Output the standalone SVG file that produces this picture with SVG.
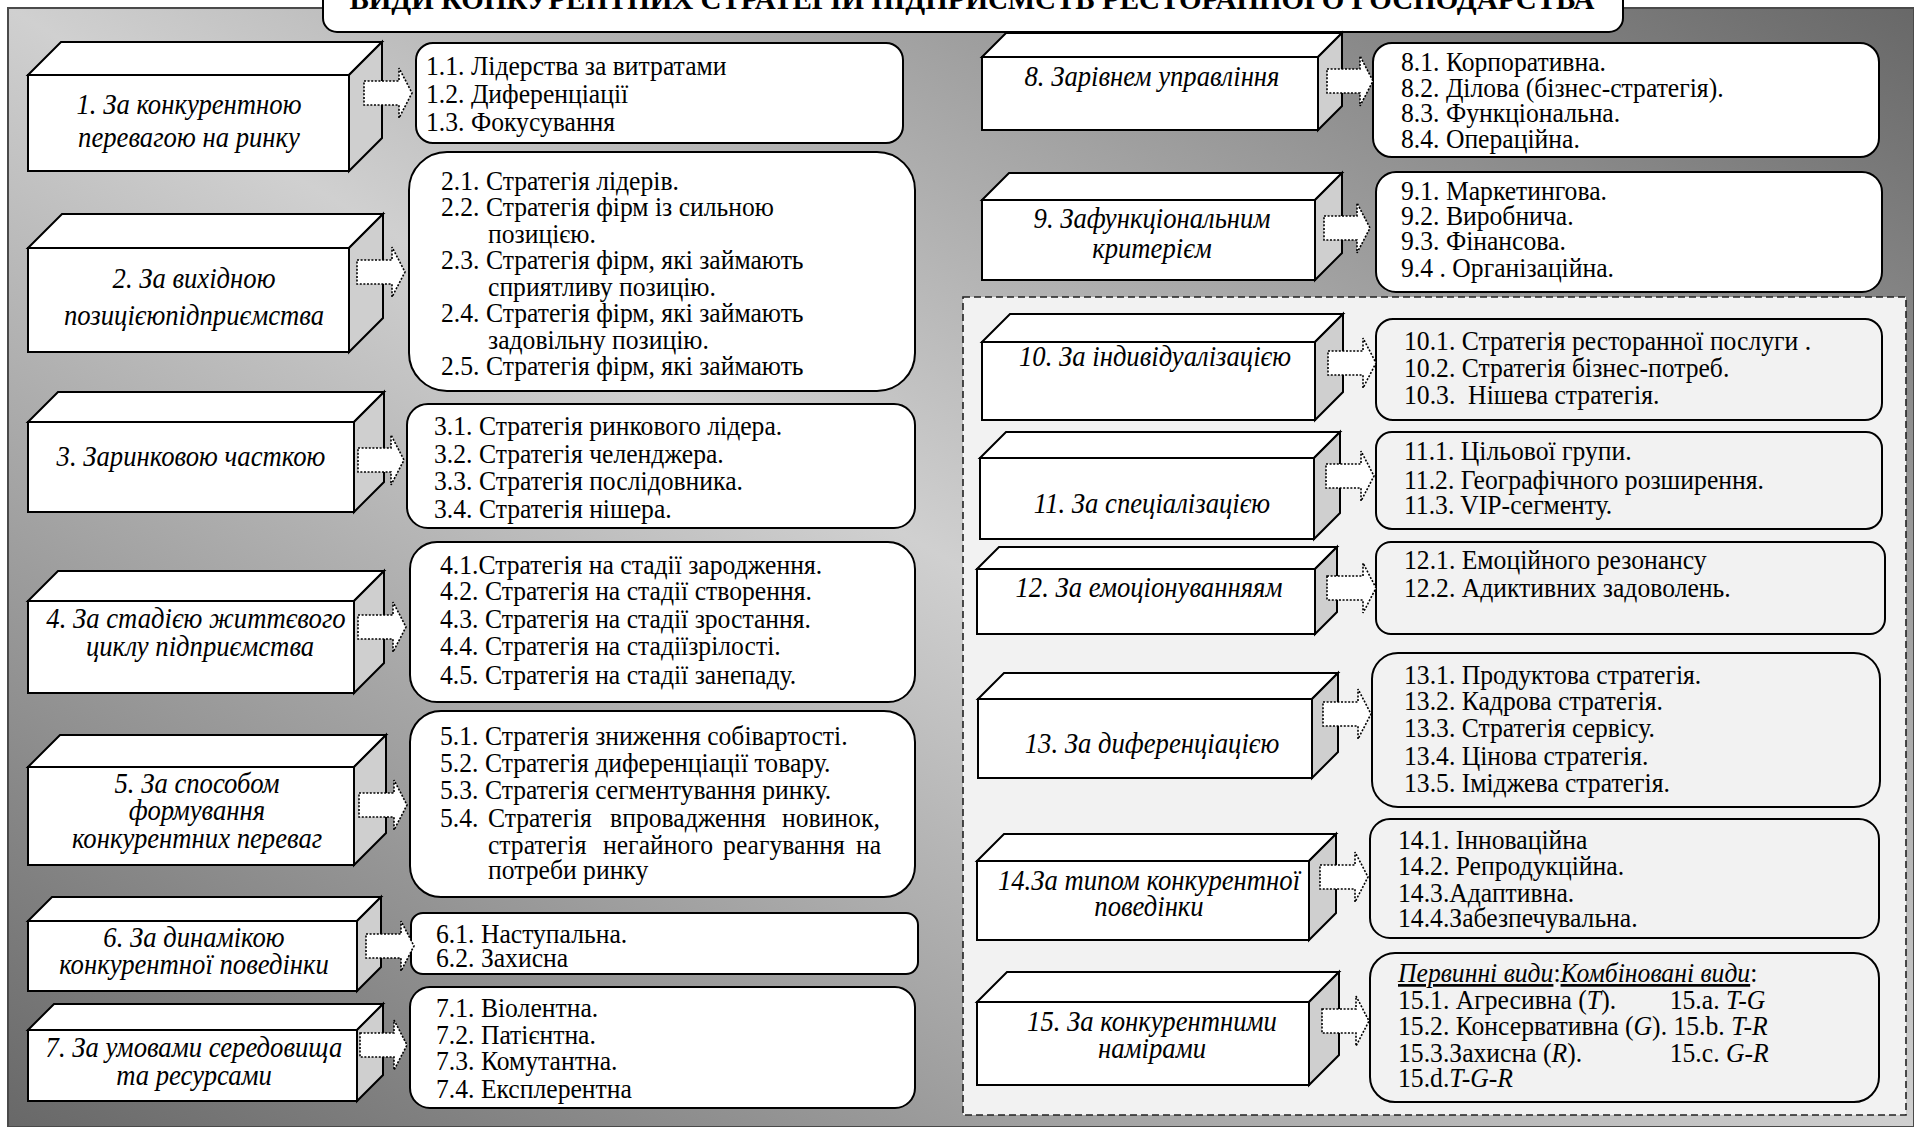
<svg xmlns="http://www.w3.org/2000/svg" width="1914" height="1127" viewBox="0 0 1914 1127">
  <defs>
    <linearGradient id="bgGrad" x1="0" y1="1" x2="1" y2="0">
      <stop offset="0" stop-color="#686868"/>
      <stop offset="0.5" stop-color="#d0d0d0"/>
      <stop offset="1" stop-color="#686868"/>
    </linearGradient>
    <style>
      .cf{fill:#fff;stroke:#000;stroke-width:2;stroke-linejoin:miter}
      .cs{fill:#cfcfcf;stroke:#000;stroke-width:2}
      .box{fill:#fff;stroke:#000;stroke-width:2}
      .box.g{fill:#f2f2f2}
      .arr{fill:#fff;stroke:#000;stroke-width:1.6;stroke-dasharray:2 1.6}
      .nt{font-family:"Liberation Serif","Times New Roman",serif;font-style:italic;font-size:29px;text-anchor:middle;fill:#000}
      .lt{font-family:"Liberation Serif","Times New Roman",serif;font-size:27px;fill:#000}
      .it{font-style:italic}
      .ul{font-style:italic;text-decoration:underline}
      .title{font-family:"Liberation Serif","Times New Roman",serif;font-weight:bold;font-size:29px;text-anchor:middle}
    </style>
  </defs>

  <!-- backdrop -->
  <rect x="8" y="8" width="1906" height="1119" fill="url(#bgGrad)" stroke="#4a4a4a" stroke-width="2"/>

  <!-- heading -->
  <g id="title">
    <rect x="323" y="-20" width="1300" height="52" rx="14" fill="#fff" stroke="#000" stroke-width="2"/>
    <text class="title" x="972" y="9">ВИДИ КОНКУРЕНТНИХ СТРАТЕГІЙ ПІДПРИЄМСТВ РЕСТОРАННОГО ГОСПОДАРСТВА</text>
  </g>

  <!-- panel holding groups 10-15 -->
  <rect id="panel" x="963" y="297" width="943" height="818" fill="#f2f2f2" stroke="#222" stroke-width="1.6" stroke-dasharray="7 4"/>

  <!-- criteria cubes (labels are set in a narrowed serif) -->
  <g id="n1">
    <path class="cf" d="M28 75 L61 42 H382 L349 75 Z"/><path class="cs" d="M349 75 L382 42 V138 L349 171 Z"/><rect class="cf" x="28" y="75" width="321" height="96"/>
    <text class="nt" transform="translate(189 0) scale(0.92 1)" y="114">1. За конкурентною</text>
    <text class="nt" transform="translate(189 0) scale(0.92 1)" y="147">перевагою на ринку</text>
  </g>
  <g id="n2">
    <path class="cf" d="M28 248 L62 214 H383 L349 248 Z"/><path class="cs" d="M349 248 L383 214 V318 L349 352 Z"/><rect class="cf" x="28" y="248" width="321" height="104"/>
    <text class="nt" transform="translate(194 0) scale(0.92 1)" y="288">2. За вихідною</text>
    <text class="nt" transform="translate(194 0) scale(0.92 1)" y="325">позицієюпідприємства</text>
  </g>
  <g id="n3">
    <path class="cf" d="M28 422 L58 392 H384 L354 422 Z"/><path class="cs" d="M354 422 L384 392 V482 L354 512 Z"/><rect class="cf" x="28" y="422" width="326" height="90"/>
    <text class="nt" transform="translate(191 0) scale(0.92 1)" y="466">3. Заринковою часткою</text>
  </g>
  <g id="n4">
    <path class="cf" d="M28 601 L58 571 H384 L354 601 Z"/><path class="cs" d="M354 601 L384 571 V663 L354 693 Z"/><rect class="cf" x="28" y="601" width="326" height="92"/>
    <text class="nt" transform="translate(196 0) scale(0.92 1)" y="628">4. За стадією життєвого</text>
    <text class="nt" transform="translate(200 0) scale(0.92 1)" y="656">циклу підприємства</text>
  </g>
  <g id="n5">
    <path class="cf" d="M28 767 L60 735 H386 L354 767 Z"/><path class="cs" d="M354 767 L386 735 V833 L354 865 Z"/><rect class="cf" x="28" y="767" width="326" height="98"/>
    <text class="nt" transform="translate(197 0) scale(0.92 1)" y="793">5. За способом</text>
    <text class="nt" transform="translate(197 0) scale(0.92 1)" y="820">формування</text>
    <text class="nt" transform="translate(197 0) scale(0.92 1)" y="848">конкурентних переваг</text>
  </g>
  <g id="n6">
    <path class="cf" d="M28 921 L52 897 H381 L357 921 Z"/><path class="cs" d="M357 921 L381 897 V967 L357 991 Z"/><rect class="cf" x="28" y="921" width="329" height="70"/>
    <text class="nt" transform="translate(194 0) scale(0.92 1)" y="947">6. За динамікою</text>
    <text class="nt" transform="translate(194 0) scale(0.92 1)" y="974">конкурентної поведінки</text>
  </g>
  <g id="n7">
    <path class="cf" d="M28 1030 L54 1004 H383 L357 1030 Z"/><path class="cs" d="M357 1030 L383 1004 V1075 L357 1101 Z"/><rect class="cf" x="28" y="1030" width="329" height="71"/>
    <text class="nt" transform="translate(194 0) scale(0.92 1)" y="1057">7. За умовами середовища</text>
    <text class="nt" transform="translate(194 0) scale(0.92 1)" y="1085">та ресурсами</text>
  </g>
  <g id="n8">
    <path class="cf" d="M982 57 L1006 33 H1342 L1318 57 Z"/><path class="cs" d="M1318 57 L1342 33 V106 L1318 130 Z"/><rect class="cf" x="982" y="57" width="336" height="73"/>
    <text class="nt" transform="translate(1152 0) scale(0.92 1)" y="86">8. Зарівнем управління</text>
  </g>
  <g id="n9">
    <path class="cf" d="M982 200 L1009 173 H1342 L1315 200 Z"/><path class="cs" d="M1315 200 L1342 173 V253 L1315 280 Z"/><rect class="cf" x="982" y="200" width="333" height="80"/>
    <text class="nt" transform="translate(1152 0) scale(0.92 1)" y="228">9. Зафункціональним</text>
    <text class="nt" transform="translate(1152 0) scale(0.92 1)" y="258">критерієм</text>
  </g>
  <g id="n10">
    <path class="cf" d="M982 342 L1010 314 H1343 L1315 342 Z"/><path class="cs" d="M1315 342 L1343 314 V392 L1315 420 Z"/><rect class="cf" x="982" y="342" width="333" height="78"/>
    <text class="nt" transform="translate(1155 0) scale(0.92 1)" y="366">10. За індивідуалізацією</text>
  </g>
  <g id="n11">
    <path class="cf" d="M980 458 L1006 432 H1340 L1314 458 Z"/><path class="cs" d="M1314 458 L1340 432 V513 L1314 539 Z"/><rect class="cf" x="980" y="458" width="334" height="81"/>
    <text class="nt" transform="translate(1152 0) scale(0.92 1)" y="513">11. За спеціалізацією</text>
  </g>
  <g id="n12">
    <path class="cf" d="M977 569 L999 547 H1337 L1315 569 Z"/><path class="cs" d="M1315 569 L1337 547 V612 L1315 634 Z"/><rect class="cf" x="977" y="569" width="338" height="65"/>
    <text class="nt" transform="translate(1149 0) scale(0.92 1)" y="597">12. За емоціонуванняям</text>
  </g>
  <g id="n13">
    <path class="cf" d="M978 699 L1004 673 H1338 L1312 699 Z"/><path class="cs" d="M1312 699 L1338 673 V752 L1312 778 Z"/><rect class="cf" x="978" y="699" width="334" height="79"/>
    <text class="nt" transform="translate(1152 0) scale(0.92 1)" y="753">13. За диференціацією</text>
  </g>
  <g id="n14">
    <path class="cf" d="M977 861 L1004 834 H1336 L1309 861 Z"/><path class="cs" d="M1309 861 L1336 834 V913 L1309 940 Z"/><rect class="cf" x="977" y="861" width="332" height="79"/>
    <text class="nt" transform="translate(1149 0) scale(0.92 1)" y="890">14.За типом конкурентної</text>
    <text class="nt" transform="translate(1149 0) scale(0.92 1)" y="916">поведінки</text>
  </g>
  <g id="n15">
    <path class="cf" d="M977 1002 L1007 972 H1339 L1309 1002 Z"/><path class="cs" d="M1309 1002 L1339 972 V1055 L1309 1085 Z"/><rect class="cf" x="977" y="1002" width="332" height="83"/>
    <text class="nt" transform="translate(1152 0) scale(0.92 1)" y="1031">15. За конкурентними</text>
    <text class="nt" transform="translate(1152 0) scale(0.92 1)" y="1058">намірами</text>
  </g>

  <!-- strategy lists; text runs are narrowed to 95% width -->
  <g id="b1">
    <rect class="box" x="416" y="43" width="487" height="100" rx="17"/>
    <g transform="translate(426 0) scale(0.95 1)">
      <text class="lt" x="0" y="75">1.1. Лідерства за витратами</text>
      <text class="lt" x="0" y="103">1.2. Диференціації</text>
      <text class="lt" x="0" y="131">1.3. Фокусування</text>
    </g>
  </g>
  <g id="b2">
    <rect class="box" x="409" y="152" width="506" height="239" rx="38"/>
    <g transform="translate(441 0) scale(0.95 1)">
      <text class="lt" x="0" y="190">2.1. Стратегія лідерів.</text>
      <text class="lt" x="0" y="216">2.2. Стратегія фірм із сильною</text>
      <text class="lt" x="49.5" y="243">позицією.</text>
      <text class="lt" x="0" y="269">2.3. Стратегія фірм, які займають</text>
      <text class="lt" x="49.5" y="296">сприятливу позицію.</text>
      <text class="lt" x="0" y="322">2.4. Стратегія фірм, які займають</text>
      <text class="lt" x="49.5" y="349">задовільну позицію.</text>
      <text class="lt" x="0" y="375">2.5. Стратегія фірм, які займають</text>
    </g>
  </g>
  <g id="b3">
    <rect class="box" x="407" y="404" width="508" height="124" rx="21"/>
    <g transform="translate(434 0) scale(0.95 1)">
      <text class="lt" x="0" y="435">3.1. Стратегія ринкового лідера.</text>
      <text class="lt" x="0" y="463">3.2. Стратегія челенджера.</text>
      <text class="lt" x="0" y="490">3.3. Стратегія послідовника.</text>
      <text class="lt" x="0" y="518">3.4. Стратегія нішера.</text>
    </g>
  </g>
  <g id="b4">
    <rect class="box" x="410" y="542" width="505" height="160" rx="27"/>
    <g transform="translate(440 0) scale(0.95 1)">
      <text class="lt" x="0" y="574">4.1.Стратегія на стадії зародження.</text>
      <text class="lt" x="0" y="600">4.2. Стратегія на стадії створення.</text>
      <text class="lt" x="0" y="628">4.3. Стратегія на стадії зростання.</text>
      <text class="lt" x="0" y="655">4.4. Стратегія на стадіїзрілості.</text>
      <text class="lt" x="0" y="684">4.5. Стратегія на стадії занепаду.</text>
    </g>
  </g>
  <g id="b5">
    <rect class="box" x="410" y="711" width="505" height="186" rx="31"/>
    <g transform="translate(440 0) scale(0.95 1)">
      <text class="lt" x="0" y="745">5.1. Стратегія зниження собівартості.</text>
      <text class="lt" x="0" y="772">5.2. Стратегія диференціації товару.</text>
      <text class="lt" x="0" y="799">5.3. Стратегія сегментування ринку.</text>
      <text class="lt" y="827"><tspan x="0">5.4.</tspan><tspan x="50.5">Стратегія</tspan><tspan x="179">впровадження</tspan><tspan x="360">новинок,</tspan></text>
      <text class="lt" y="854"><tspan x="50.5">стратегія</tspan><tspan x="171.6">негайного</tspan><tspan x="298">реагування</tspan><tspan x="438">на</tspan></text>
      <text class="lt" x="50.5" y="879">потреби ринку</text>
    </g>
  </g>
  <g id="b6">
    <rect class="box" x="411" y="913" width="507" height="61" rx="12"/>
    <g transform="translate(436 0) scale(0.95 1)">
      <text class="lt" x="0" y="943">6.1. Наступальна.</text>
      <text class="lt" x="0" y="967">6.2. Захисна</text>
    </g>
  </g>
  <g id="b7">
    <rect class="box" x="410" y="987" width="505" height="121" rx="20"/>
    <g transform="translate(436 0) scale(0.95 1)">
      <text class="lt" x="0" y="1017">7.1. Віолентна.</text>
      <text class="lt" x="0" y="1044">7.2. Патієнтна.</text>
      <text class="lt" x="0" y="1070">7.3. Комутантна.</text>
      <text class="lt" x="0" y="1098">7.4. Експлерентна</text>
    </g>
  </g>
  <g id="b8">
    <rect class="box" x="1373" y="43" width="506" height="114" rx="19"/>
    <g transform="translate(1401 0) scale(0.95 1)">
      <text class="lt" x="0" y="71">8.1. Корпоративна.</text>
      <text class="lt" x="0" y="97">8.2. Ділова (бізнес-стратегія).</text>
      <text class="lt" x="0" y="122">8.3. Функціональна.</text>
      <text class="lt" x="0" y="148">8.4. Операційна.</text>
    </g>
  </g>
  <g id="b9">
    <rect class="box" x="1376" y="172" width="506" height="120" rx="20"/>
    <g transform="translate(1401 0) scale(0.95 1)">
      <text class="lt" x="0" y="200">9.1. Маркетингова.</text>
      <text class="lt" x="0" y="225">9.2. Виробнича.</text>
      <text class="lt" x="0" y="250">9.3. Фінансова.</text>
      <text class="lt" x="0" y="277">9.4 . Організаційна.</text>
    </g>
  </g>
  <g id="b10">
    <rect class="box g" x="1376" y="319" width="506" height="101" rx="17"/>
    <g transform="translate(1404 0) scale(0.95 1)">
      <text class="lt" x="0" y="350">10.1. Стратегія ресторанної послуги .</text>
      <text class="lt" x="0" y="377">10.2. Стратегія бізнес-потреб.</text>
      <text class="lt" x="0" y="404" xml:space="preserve">10.3.  Нішева стратегія.</text>
    </g>
  </g>
  <g id="b11">
    <rect class="box g" x="1376" y="432" width="506" height="97" rx="16"/>
    <g transform="translate(1404 0) scale(0.95 1)">
      <text class="lt" x="0" y="460">11.1. Цільової групи.</text>
      <text class="lt" x="0" y="489">11.2. Географічного розширення.</text>
      <text class="lt" x="0" y="514">11.3. VIP-сегменту.</text>
    </g>
  </g>
  <g id="b12">
    <rect class="box g" x="1376" y="542" width="509" height="92" rx="15"/>
    <g transform="translate(1404 0) scale(0.95 1)">
      <text class="lt" x="0" y="569">12.1. Емоційного резонансу</text>
      <text class="lt" x="0" y="597">12.2. Адиктивних задоволень.</text>
    </g>
  </g>
  <g id="b13">
    <rect class="box g" x="1372" y="653" width="508" height="154" rx="26"/>
    <g transform="translate(1404 0) scale(0.95 1)">
      <text class="lt" x="0" y="684">13.1. Продуктова стратегія.</text>
      <text class="lt" x="0" y="710">13.2. Кадрова стратегія.</text>
      <text class="lt" x="0" y="737">13.3. Стратегія сервісу.</text>
      <text class="lt" x="0" y="765">13.4. Цінова стратегія.</text>
      <text class="lt" x="0" y="792">13.5. Іміджева стратегія.</text>
    </g>
  </g>
  <g id="b14">
    <rect class="box g" x="1370" y="819" width="509" height="119" rx="20"/>
    <g transform="translate(1398 0) scale(0.95 1)">
      <text class="lt" x="0" y="849">14.1. Інноваційна</text>
      <text class="lt" x="0" y="875">14.2. Репродукційна.</text>
      <text class="lt" x="0" y="902">14.3.Адаптивна.</text>
      <text class="lt" x="0" y="927">14.4.Забезпечувальна.</text>
    </g>
  </g>
  <g id="b15">
    <rect class="box g" x="1370" y="953" width="509" height="149" rx="25"/>
    <g transform="translate(1398 0) scale(0.95 1)">
      <text class="lt" x="0" y="982"><tspan class="ul">Первинні види</tspan>:<tspan class="ul">Комбіновані види</tspan>:</text>
      <text class="lt" x="0" y="1009">15.1. Агресивна (<tspan class="it">T</tspan>).</text>
      <text class="lt" x="286" y="1009">15.a. <tspan class="it">T-G</tspan></text>
      <text class="lt" x="0" y="1035">15.2. Консервативна (<tspan class="it">G</tspan>). 15.b. <tspan class="it">T-R</tspan></text>
      <text class="lt" x="0" y="1062">15.3.Захисна (<tspan class="it">R</tspan>).</text>
      <text class="lt" x="286" y="1062">15.c. <tspan class="it">G-R</tspan></text>
      <text class="lt" x="0" y="1087">15.d.<tspan class="it">T-G-R</tspan></text>
    </g>
  </g>

  <!-- connectors: dotted block arrows -->
  <g id="connectors">
    <path class="arr" d="M364 81 H399 V68 L412 93 L399 118 V105 H364 Z"/>
    <path class="arr" d="M357 260 H392 V247 L405 272 L392 297 V284 H357 Z"/>
    <path class="arr" d="M358 448 H391 V435 L404 460 L391 485 V472 H358 Z"/>
    <path class="arr" d="M358 615 H393 V602 L406 627 L393 652 V639 H358 Z"/>
    <path class="arr" d="M359 793 H394 V780 L407 805 L394 830 V817 H359 Z"/>
    <path class="arr" d="M366 934 H401 V921 L414 946 L401 971 V958 H366 Z"/>
    <path class="arr" d="M360 1033 H394 V1020 L407 1045 L394 1070 V1057 H360 Z"/>
    <path class="arr" d="M1327 69 H1360 V56 L1373 81 L1360 106 V93 H1327 Z"/>
    <path class="arr" d="M1324 216 H1357 V203 L1370 228 L1357 253 V240 H1324 Z"/>
    <path class="arr" d="M1328 351 H1363 V338 L1376 363 L1363 388 V375 H1328 Z"/>
    <path class="arr" d="M1326 464 H1361 V451 L1374 476 L1361 501 V488 H1326 Z"/>
    <path class="arr" d="M1327 576 H1363 V563 L1376 588 L1363 613 V600 H1327 Z"/>
    <path class="arr" d="M1323 702 H1358 V689 L1371 714 L1358 739 V726 H1323 Z"/>
    <path class="arr" d="M1320 865 H1355 V852 L1368 877 L1355 902 V889 H1320 Z"/>
    <path class="arr" d="M1322 1009 H1356 V996 L1369 1021 L1356 1046 V1033 H1322 Z"/>
  </g>
</svg>
